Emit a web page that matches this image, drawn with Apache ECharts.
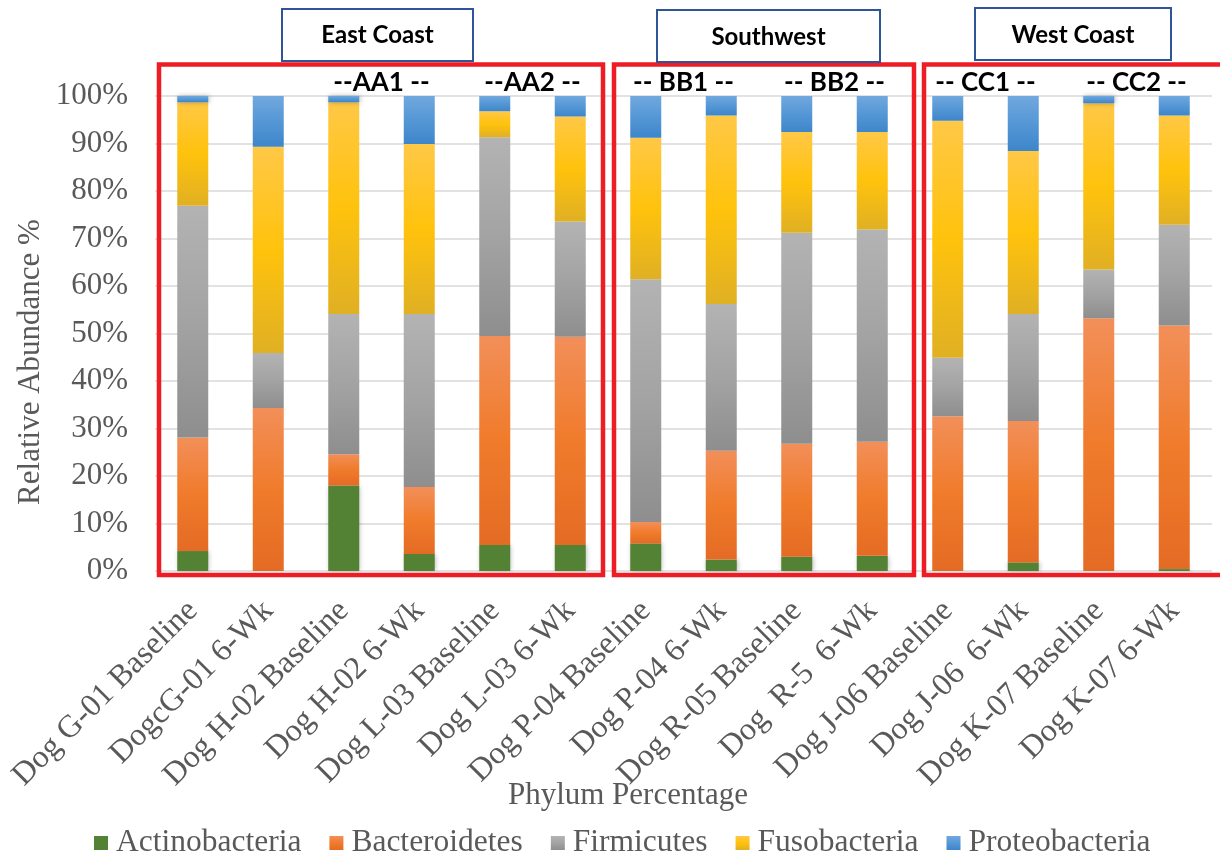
<!DOCTYPE html>
<html>
<head>
<meta charset="utf-8">
<script src="https://cdn.jsdelivr.net/npm/echarts@6/dist/echarts.min.js"></script>
<style>
html,body{margin:0;padding:0;background:#fff;}
#c{width:1220px;height:854px;}
</style>
</head>
<body>
<div id="c"></div>
<script>
var categories = ["Dog G-01 Baseline","DogcG-01 6-Wk","Dog H-02 Baseline","Dog H-02 6-Wk","Dog L-03 Baseline","Dog L-03 6-Wk","Dog P-04 Baseline","Dog P-04 6-Wk","Dog R-05 Baseline","Dog  R-5  6-Wk","Dog J-06 Baseline","Dog J-06  6-Wk","Dog K-07 Baseline","Dog K-07 6-Wk"];
var actinobacteria = [4.2, 0, 18.0, 3.6, 5.5, 5.5, 5.8, 2.4, 3.0, 3.2, 0, 1.8, 0, 0.4];
var bacteroidetes  = [23.9, 34.3, 6.6, 14.1, 44.0, 43.8, 4.5, 22.9, 23.8, 24.0, 32.6, 29.8, 53.2, 51.3];
var firmicutes     = [48.8, 11.6, 29.5, 36.4, 41.8, 24.3, 51.1, 30.9, 44.4, 44.7, 12.3, 22.5, 10.3, 21.2];
var fusobacteria   = [21.8, 43.4, 44.6, 35.8, 5.5, 22.1, 29.8, 39.7, 21.2, 20.5, 49.9, 34.3, 35.0, 23.0];
var proteobacteria = [1.3, 10.7, 1.3, 10.1, 3.2, 4.3, 8.8, 4.1, 7.6, 7.6, 5.2, 11.6, 1.5, 4.1];
var seriesNames = ["Actinobacteria","Bacteroidetes","Firmicutes","Fusobacteria","Proteobacteria"];
var yTickValues = [0,10,20,30,40,50,60,70,80,90,100];
var regionNames = ["East Coast","Southwest","West Coast"];
var pairLabels = ["--AA1 --","--AA2 --","-- BB1 --","-- BB2 --","-- CC1 --","-- CC2 --"];
var pairFirstIndex = [2,4,6,8,10,12];
var yAxisTitle = "Relative Abundance %";
var xAxisTitle = "Phylum Percentage";

var serif = "'Liberation Serif','Times New Roman',serif";
var sans = "Lato,'Noto Sans',sans-serif";
function grad(stops){
  return {type:'linear',x:0,y:0,x2:0,y2:1,colorStops:stops.map(function(c,i){return {offset:i/(stops.length-1),color:c};})};
}
var fills = [
  '#548235',
  grad(['#F28F59','#F07B2B','#E46B24']),
  grad(['#B3B3B3','#A3A3A3','#8E8E8E']),
  grad(['#FFC846','#FFC20C','#E0B024']),
  grad(['#71A8DE','#5597D6','#3D86CA'])
];
var legendColors = ['#548235','#EF7B2D','#A5A5A5','#FFC000','#5B9BD5'];
var values = [actinobacteria, bacteroidetes, firmicutes, fusobacteria, proteobacteria];

var chart = echarts.init(document.getElementById('c'), null, {renderer:'canvas'});
var series = seriesNames.map(function(n,i){
  return {
    name:n, type:'bar', stack:'total', barWidth:31, data:values[i],
    itemStyle:{color:fills[i], shadowBlur:5, shadowColor:'rgba(0,0,0,0.28)', shadowOffsetX:1},
    emphasis:{disabled:true}
  };
});
var option = {
  animation:false,
  color: legendColors,
  grid:{left:155, right:8, top:96, bottom:283, containLabel:false},
  xAxis:{
    type:'category', data:categories,
    axisLine:{show:false}, axisTick:{show:false},
    axisLabel:{rotate:45, interval:0, margin:35, fontFamily:serif, fontSize:32, color:'#595959'}
  },
  yAxis:{
    type:'value', min:0, max:100, interval:10,
    axisLine:{show:false}, axisTick:{show:false},
    splitLine:{lineStyle:{color:'#D9D9D9', width:1.5}},
    axisLabel:{formatter:function(v){return v+'%';}, margin:27, fontFamily:serif, fontSize:31, color:'#595959'}
  },
  legend:{
    top:822, left:89, icon:'rect', itemWidth:14, itemHeight:14, itemGap:28,
    textStyle:{fontFamily:serif, fontSize:31.5, color:'#595959', padding:[0,0,0,3]},
    data: seriesNames.map(function(n,i){return {name:n, itemStyle:{color:fills[i]}};})
  },
  series: series
};
chart.setOption(option);

// annotation graphics
var g = [];
g.push({type:'text', x:31, y:362, rotation:Math.PI/2, style:{text:yAxisTitle, fontFamily:serif, fontSize:31, fill:'#595959', align:'center', verticalAlign:'middle'}});
g.push({type:'text', x:628, y:796, style:{text:xAxisTitle, fontFamily:serif, fontSize:31, fill:'#595959', align:'center', verticalAlign:'middle'}});
var redBoxes = [[159,64.5,603,575],[614,64.5,914,575],[924,64.5,1240,575]];
redBoxes.forEach(function(b){
  g.push({type:'rect', shape:{x:b[0],y:b[1],width:b[2]-b[0],height:b[3]-b[1]}, style:{fill:null, stroke:'#EE1C25', lineWidth:4.5}, z:100});
});
var blueBoxes = [[282,9,473,61,35],[657,10,880,62,37],[975,8,1171,60,35]];
blueBoxes.forEach(function(b,i){
  g.push({type:'rect', shape:{x:b[0],y:b[1],width:b[2]-b[0],height:b[3]-b[1]}, style:{fill:'#fff', stroke:'#2F5597', lineWidth:2}, z:100});
  g.push({type:'text', x:(b[0]+b[2])/2, y:b[4], style:{text:regionNames[i], fontFamily:sans, fontWeight:'bold', fontSize:24, fill:'#000', align:'center', verticalAlign:'middle'}, z:101});
});
pairLabels.forEach(function(t,i){
  var p1 = chart.convertToPixel({xAxisIndex:0}, categories[pairFirstIndex[i]]);
  var p2 = chart.convertToPixel({xAxisIndex:0}, categories[pairFirstIndex[i]+1]);
  g.push({type:'text', x:(p1+p2)/2, y:83, style:{text:t, fontFamily:sans, fontWeight:'bold', fontSize:26, fill:'#000', align:'center', verticalAlign:'middle'}, z:101});
});
chart.setOption({graphic:g});
</script>
</body>
</html>
